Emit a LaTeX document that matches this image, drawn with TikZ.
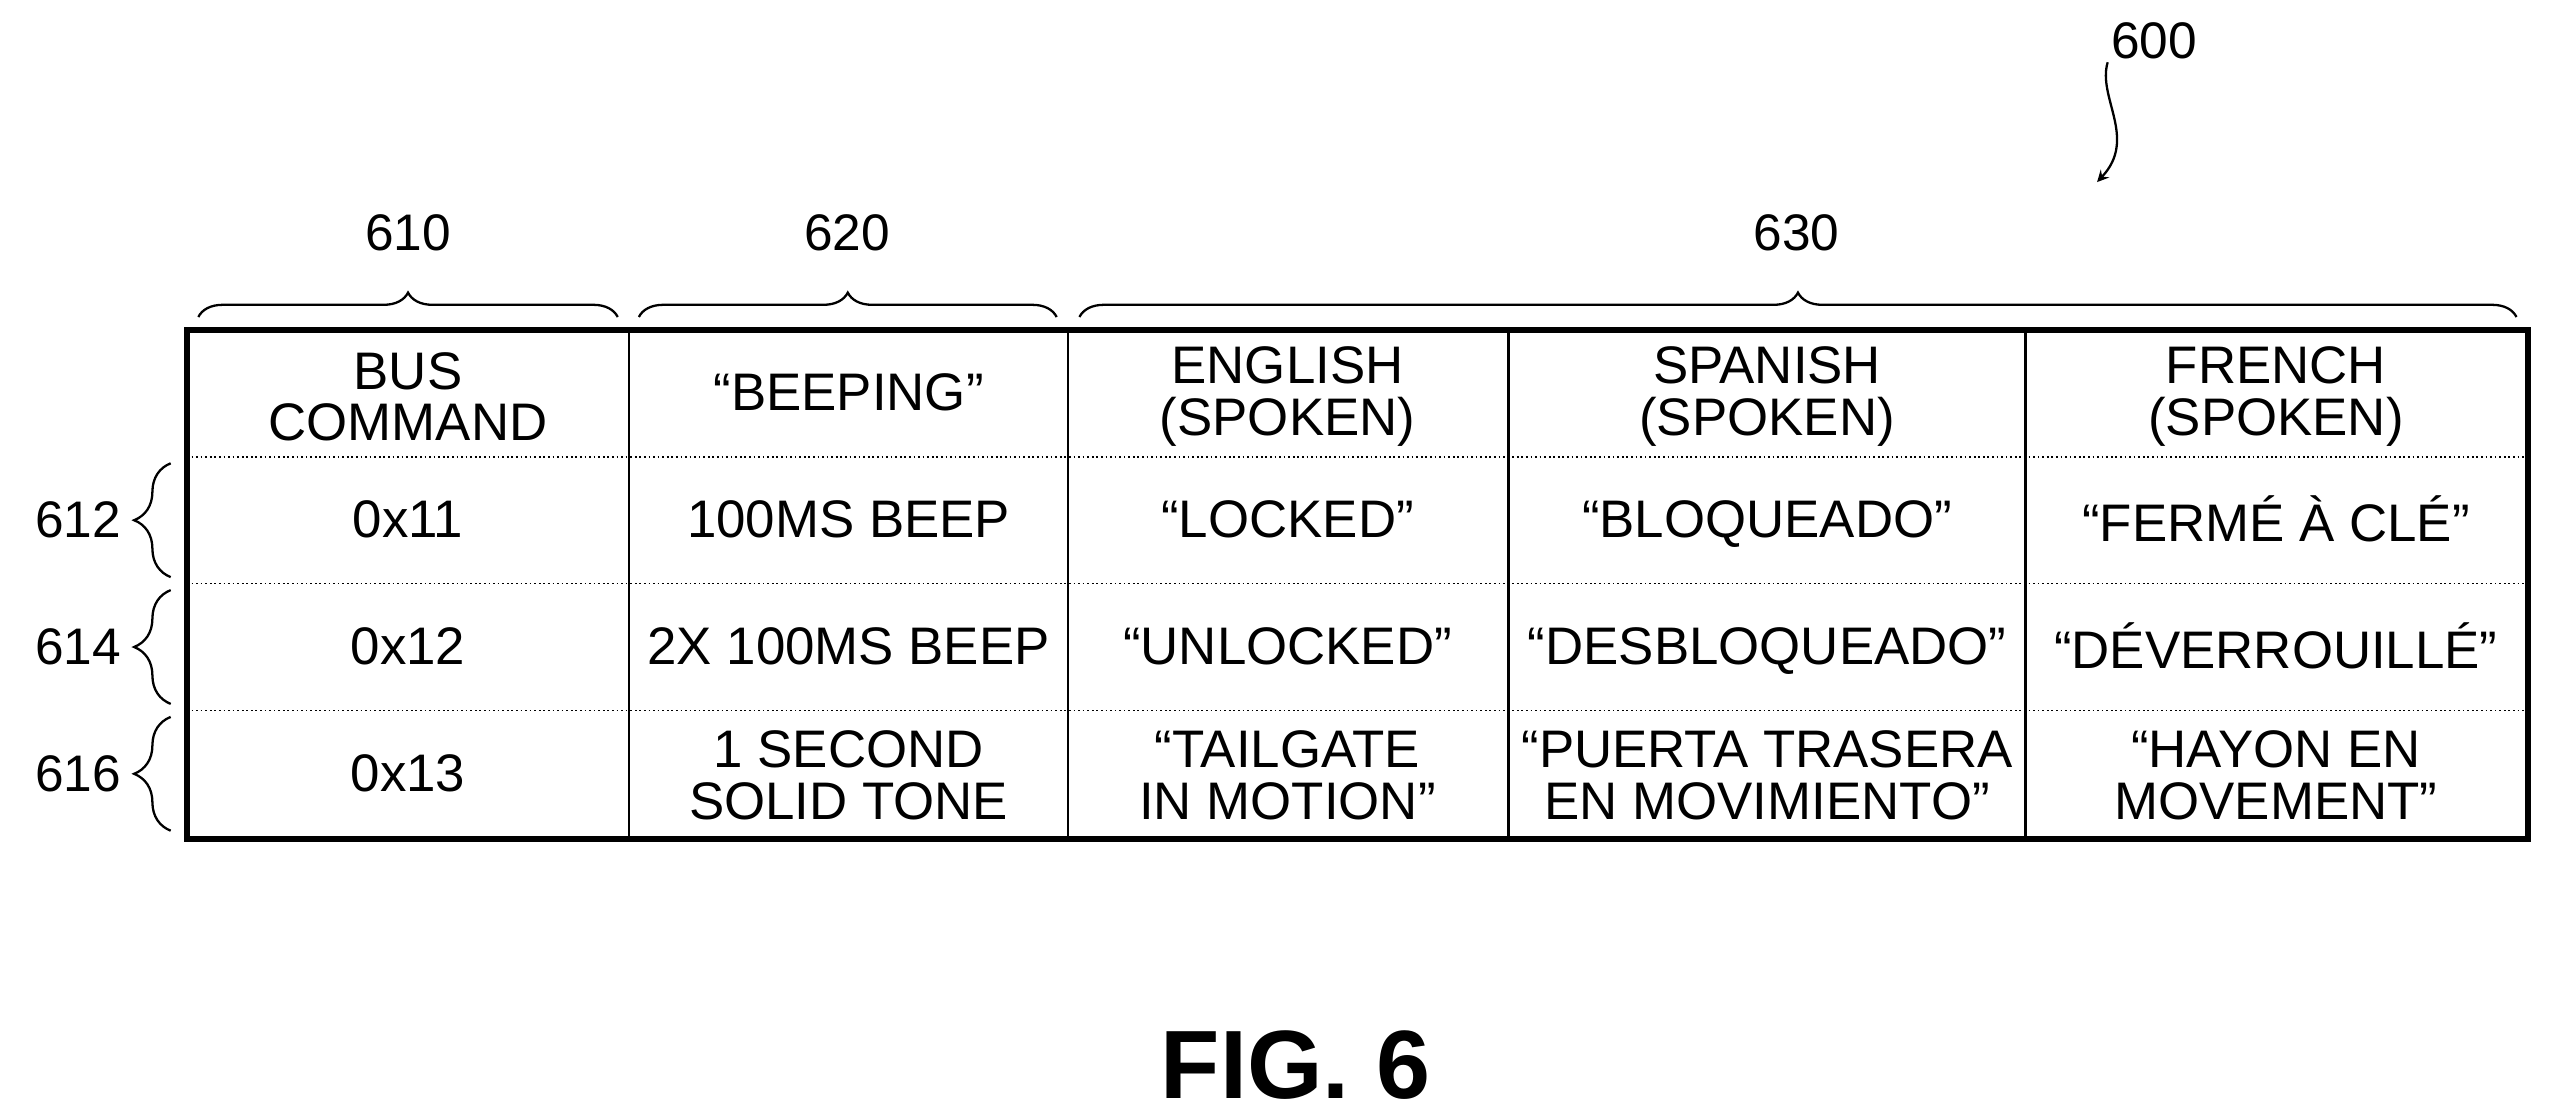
\documentclass[tikz,border=0pt]{standalone}
\usepackage{fontspec}
\setmainfont{Liberation Sans}
\usetikzlibrary{decorations.pathreplacing}
\tikzset{
  cell/.style={align=center, font=\fontsize{18.5}{18}\selectfont, inner sep=0pt},
  lbl/.style={font=\fontsize{18}{19}\selectfont, inner sep=1pt},
  brc/.style={decorate, decoration={brace, amplitude=0.3cm}, line width=0.8pt},
  rbrc/.style={decorate, decoration={brace, amplitude=0.45cm}, line width=0.8pt},
}
\begin{document}
\begin{tikzpicture}[x=0.02cm, y=-0.02cm]
        \useasboundingbox (0,0) rectangle (1568,686);
        % table
        \draw [line width=2pt] (115,203) rectangle (1555,516);
        \draw [line width=0.6pt, densely dotted] (115,281) -- (1555,281);
        \draw [line width=0.6pt, densely dotted] (115,359) -- (1555,359);
        \draw [line width=0.6pt, densely dotted] (115,437) -- (1555,437);
        \foreach \x in {387,657,928,1246}
            \draw [line width=0.8pt] (\x,203) -- (\x,516);
        % header row
        \node[cell] (h1) at (251,244) {BUS\\COMMAND};
        \node[cell] (h2) at (522,246) {“BEEPING”\strut};
        \node[cell] (h3) at (792,244) {ENGLISH\\(SPOKEN)};
        \node[cell] (h4) at (1087,244) {SPANISH\\(SPOKEN)};
        \node[cell] (h5) at (1400,244) {FRENCH\\(SPOKEN)};
        % rows
        \node[cell] (a1) at (251,324) {\strut 0x11};
        \node[cell] (a2) at (522,324) {\strut 100MS BEEP};
        \node[cell] (a3) at (792,324) {\strut “LOCKED”};
        \node[cell] (a4) at (1087,324) {\strut “BLOQUEADO”};
        \node[cell] (a5) at (1400,324) {\strut “FERMÉ À CLÉ”};
        \node[cell] (b1) at (251,402) {\strut 0x12};
        \node[cell] (b2) at (522,402) {\strut 2X 100MS BEEP};
        \node[cell] (b3) at (792,402) {\strut “UNLOCKED”};
        \node[cell] (b4) at (1087,402) {\strut “DESBLOQUEADO”};
        \node[cell] (b5) at (1400,402) {\strut “DÉVERROUILLÉ”};
        \node[cell] (c1) at (251,480) {\strut 0x13};
        \node[cell] (c2) at (522,477) {1 SECOND\\SOLID TONE};
        \node[cell] (c3) at (792,477) {“TAILGATE\\IN MOTION”};
        \node[cell] (c4) at (1087,477) {“PUERTA TRASERA\\EN MOVIMIENTO”};
        \node[cell] (c5) at (1400,477) {“HAYON EN\\MOVEMENT”};
        % column braces
        \draw [brc] (122,195) -- (380,195);
        \draw [brc] (393,195) -- (650,195);
        \draw [brc] (664,195) -- (1548,195);
        \node[lbl] (n610) at (251,143) {610};
        \node[lbl] (n620) at (521,143) {620};
        \node[lbl] (n630) at (1105,143) {630};
        % row braces
        \draw [rbrc] (105,355) -- (105,285);
        \draw [rbrc] (105,433) -- (105,363);
        \draw [rbrc] (105,511) -- (105,441);
        \node[lbl] (n612) at (48,320) {612};
        \node[lbl] (n614) at (48,398) {614};
        \node[lbl] (n616) at (48,476) {616};
        % figure number
        \node[lbl] (n600) at (1325,25) {600};
        \coordinate (tip) at (1290,112);
        \draw [->, >=stealth, line width=0.8pt] (n600.south west) .. controls (1290,60) and (1315,85) .. (tip);
        \node[font=\bfseries\fontsize{34}{36}\selectfont] (fig) at (797,655) {FIG. 6};
\end{tikzpicture}
\end{document}
